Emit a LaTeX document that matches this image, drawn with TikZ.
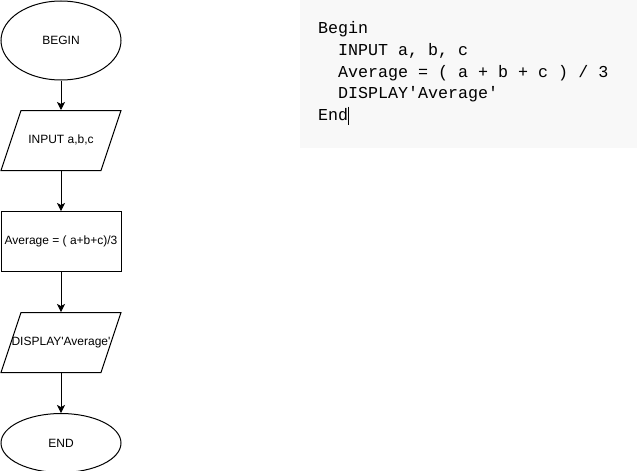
\documentclass[tikz,border=0pt]{standalone}
\usepackage{fontspec}
\setmainfont{Liberation Sans}
\newfontfamily\codefont{Liberation Mono}
\usetikzlibrary{arrows.meta,positioning,shapes.geometric}
\definecolor{codebg}{RGB}{248,248,248}

\begin{document}
\begin{tikzpicture}[x=1pt,y=-1pt,line width=1pt,
  every node/.style={font=\fontsize{12}{14}\selectfont, inner sep=0pt},
  terminal/.style={draw, ellipse, minimum width=120pt, minimum height=#1},
  io/.style={draw, trapezium, trapezium left angle=71.565, trapezium right angle=108.435, trapezium stretches body=true, inner xsep=0pt, inner ysep=24pt, text height=9pt, text depth=3pt, minimum width=120pt},
  process/.style={draw, rectangle, minimum width=120pt, minimum height=60pt},
  flow/.style={-{Stealth[length=8pt,width=8pt,inset=2pt]}},
  codeline/.style={anchor=base west, font=\codefont\fontsize{16.67}{20}\selectfont}]
\useasboundingbox (0,0) rectangle (637,471);
%%% flowchart
\node[terminal=79pt] (begin) at (61,40.5) {BEGIN};
\node[io, below=29.5pt of begin] (input) {\makebox[0pt]{INPUT a,b,c}};
\node[process, below=40pt of input] (avg) {Average = ( a+b+c)/3};
\node[io, below=40pt of avg] (display) {\makebox[0pt]{DISPLAY\textquotesingle Average\textquotesingle}};
\node[terminal=59pt, below=40pt of display] (end) {END};
\foreach \from/\to in {begin/input, input/avg, avg/display, display/end}{\draw[flow] (\from) -- (\to);};
%%% pseudocode
\fill[codebg] (300,0) rectangle (637,148);
\foreach \ind/\codetext [count=\i from 0] in {0/Begin, 2/{INPUT a, b, c}, 2/{Average = ( a + b + c ) / 3}, 2/{DISPLAY\textquotesingle Average\textquotesingle}, 0/End}{\node[codeline] (code-\i) at (317.7+10*\ind, 33.3+21.85*\i) {\codetext};};
\draw[line width=0.7pt] ([xshift=-0.5pt,yshift=14pt]code-4.base east) -- ([xshift=-0.5pt,yshift=-4.5pt]code-4.base east);
\end{tikzpicture}
\end{document}
